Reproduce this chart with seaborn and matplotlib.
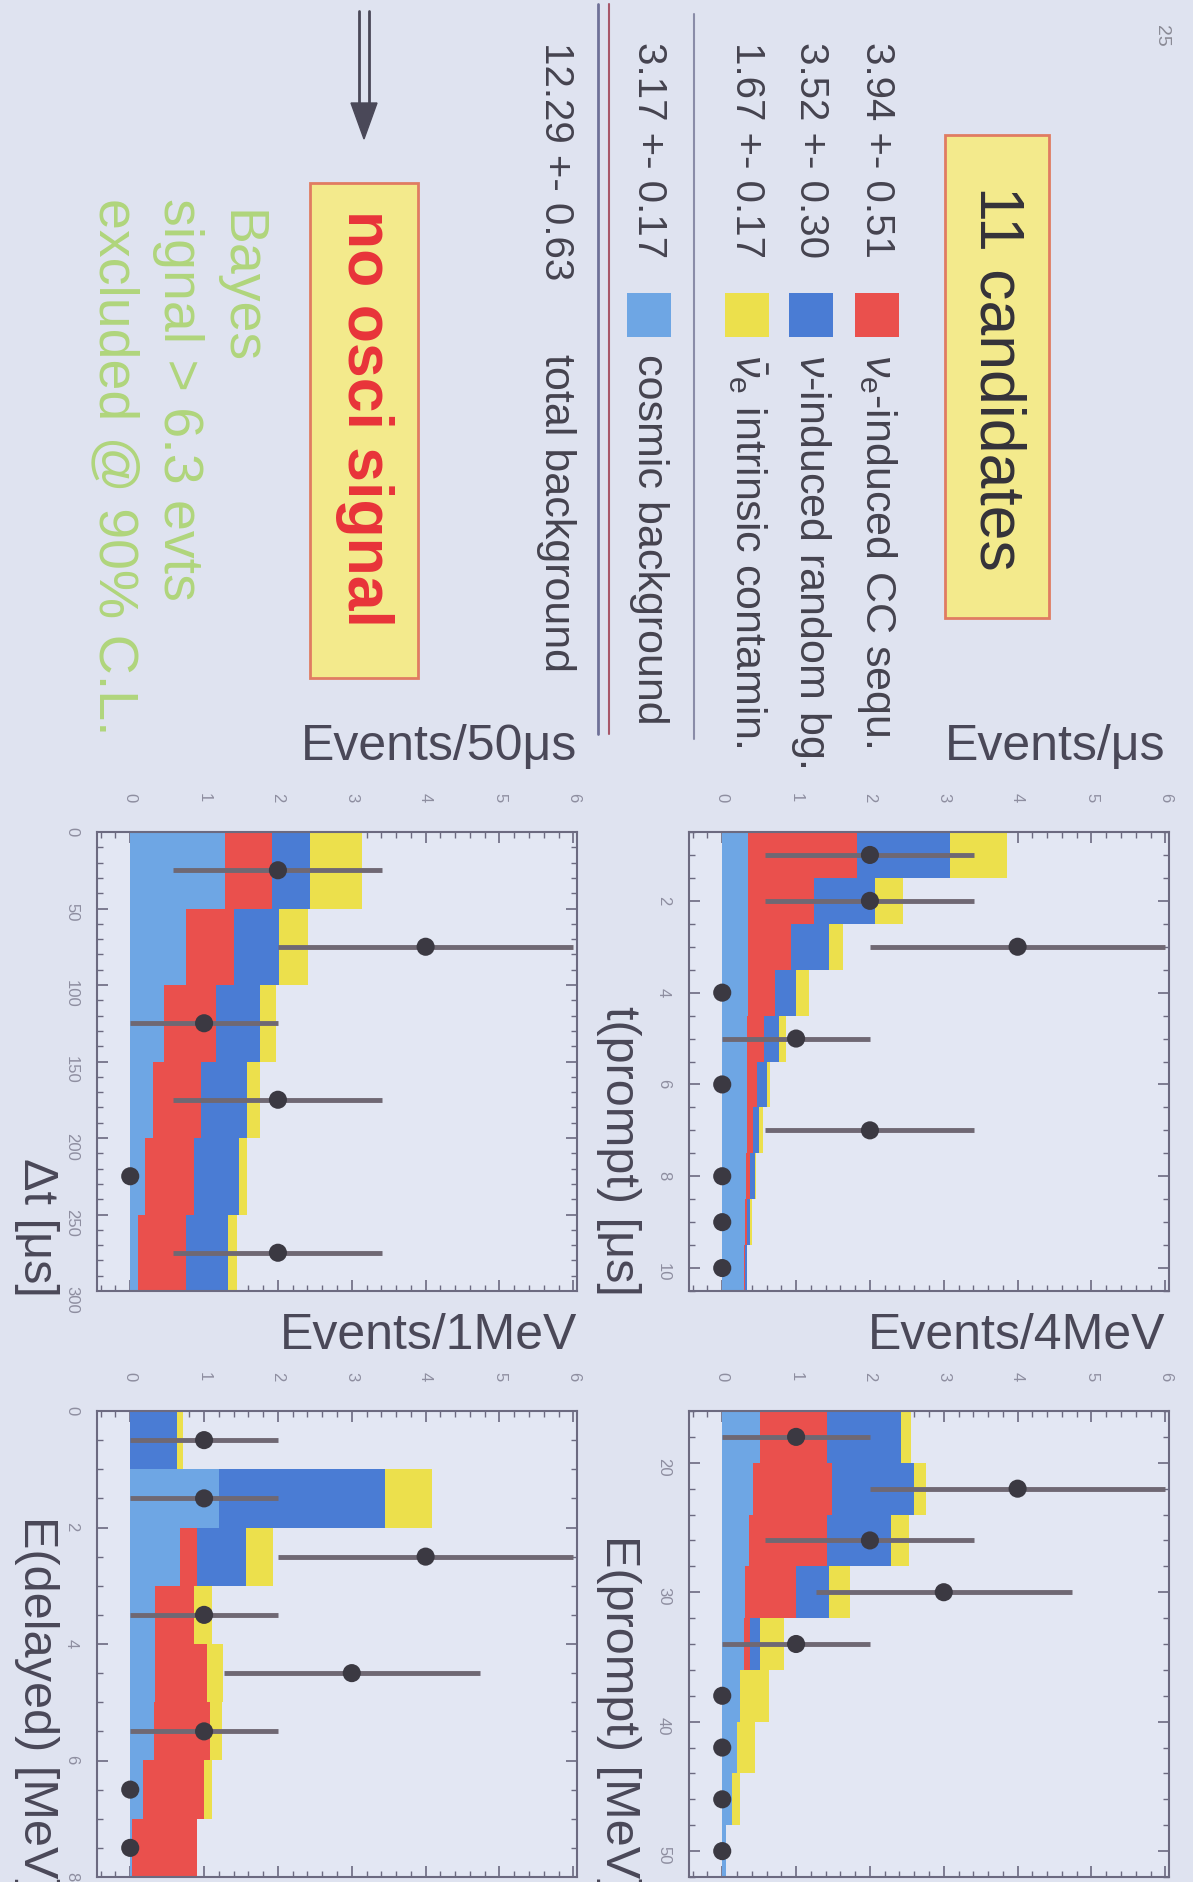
import numpy as np
import pandas as pd
import matplotlib
matplotlib.use("Agg")
import matplotlib.pyplot as plt
from matplotlib.patches import Rectangle, Polygon
from matplotlib.ticker import MultipleLocator
import seaborn as sns

# ---- data (events per bin) ----
components = ["cosmic", "cc", "random", "intrinsic"]
comp_colors = {"cosmic": "#6ea6e4", "cc": "#ea504d", "random": "#4a7cd4", "intrinsic": "#ece04c"}

# t(prompt) [us], 1 us bins
t_edges = [0.5, 1.5, 2.5, 3.5, 4.5, 5.5, 6.5, 7.5, 8.5, 9.5, 10.5]
t_cosmic = [0.35, 0.35, 0.35, 0.35, 0.34, 0.34, 0.33, 0.32, 0.31, 0.29]
t_cc = [1.47, 0.89, 0.58, 0.36, 0.23, 0.13, 0.08, 0.05, 0.03, 0.02]
t_random = [1.27, 0.83, 0.51, 0.29, 0.20, 0.13, 0.09, 0.07, 0.04, 0.02]
t_intrinsic = [0.76, 0.38, 0.20, 0.18, 0.09, 0.05, 0.05, 0.02, 0.02, 0.01]
t_data = [2, 2, 4, 0, 1, 0, 2, 0, 0, 0]

# delta t [us], 50 us bins
dt_edges = [0, 50, 100, 150, 200, 250, 300]
dt_cosmic = [1.29, 0.75, 0.46, 0.31, 0.20, 0.11]
dt_cc = [0.63, 0.65, 0.70, 0.65, 0.67, 0.64]
dt_random = [0.51, 0.62, 0.60, 0.62, 0.60, 0.58]
dt_intrinsic = [0.71, 0.39, 0.22, 0.18, 0.11, 0.12]
dt_data = [2, 4, 1, 2, 0, 2]

# E(prompt) [MeV], 4 MeV bins
ep_edges = [16, 20, 24, 28, 32, 36, 40, 44, 48, 52]
ep_cosmic = [0.51, 0.42, 0.36, 0.31, 0.29, 0.24, 0.20, 0.13, 0.05]
ep_cc = [0.91, 1.07, 1.06, 0.69, 0.09, 0.0, 0.0, 0.0, 0.0]
ep_random = [1.00, 1.11, 0.87, 0.44, 0.13, 0.0, 0.0, 0.0, 0.0]
ep_intrinsic = [0.14, 0.16, 0.24, 0.29, 0.33, 0.40, 0.24, 0.11, 0.0]
ep_data = [1, 4, 2, 3, 1, 0, 0, 0, 0]

# E(delayed) [MeV], 1 MeV bins
ed_edges = [0, 1, 2, 3, 4, 5, 6, 7, 8]
ed_cosmic = [0.0, 1.20, 0.68, 0.34, 0.33, 0.32, 0.17, 0.02]
ed_cc = [0.0, 0.0, 0.22, 0.52, 0.71, 0.76, 0.83, 0.88]
ed_random = [0.63, 2.25, 0.67, 0.0, 0.0, 0.0, 0.0, 0.0]
ed_intrinsic = [0.09, 0.64, 0.36, 0.25, 0.22, 0.16, 0.11, 0.0]
ed_data = [1, 1, 4, 1, 3, 1, 0, 0]

legend_values = ["3.94 +- 0.51", "3.52 +- 0.30", "1.67 +- 0.17", "3.17 +- 0.17"]
legend_labels = [r"$\nu_\mathrm{e}$-induced CC sequ.", r"$\nu$-induced random bg.",
                 r"$\bar{\nu}_\mathrm{e}$ intrinsic contamin.", "cosmic background"]
legend_comps = ["cc", "random", "intrinsic", "cosmic"]
total_value = "12.29 +- 0.63"

# ---- style ----
W, H = 1193, 1883
PAGE = "#dfe3f0"
INNER = "#e3e7f3"
FRAME = "#6c6a80"
DARK = "#45434f"

sns.set_style("ticks")
plt.rcParams["font.family"] = ["Liberation Sans", "DejaVu Sans"]
plt.rcParams["mathtext.fontset"] = "custom"
plt.rcParams["mathtext.rm"] = "Liberation Sans"
plt.rcParams["mathtext.it"] = "Liberation Sans:italic"
plt.rcParams["mathtext.bf"] = "Liberation Sans:bold"

fig = plt.figure(figsize=(W / 100, H / 100), dpi=100, facecolor=PAGE)

bg = fig.add_axes([0, 0, 1, 1], zorder=0)
bg.set_xlim(0, W)
bg.set_ylim(H, 0)
bg.axis("off")


def px_rect(x0, y0, x1, y1):
    return [x0 / W, 1 - y1 / H, (x1 - x0) / W, (y1 - y0) / H]


def draw_panel(rect, edges, comps, counts, major, minor):
    ax = fig.add_axes(px_rect(*rect), zorder=2, facecolor=INNER)
    centers = [(a + b) / 2 for a, b in zip(edges[:-1], edges[1:])]
    rows = []
    for name, vals in zip(components, comps):
        for c, v in zip(centers, vals):
            rows.append({"x": c, "w": v, "comp": name})
    df = pd.DataFrame(rows)
    sns.histplot(data=df, y="x", weights="w", hue="comp",
                 hue_order=components[::-1], palette=comp_colors,
                 multiple="stack", bins=edges, element="step", fill=True,
                 alpha=1, linewidth=0, legend=False, ax=ax)
    pts = pd.DataFrame({"x": centers, "n": counts})
    nz = pts[pts["n"] > 0]
    err = np.sqrt(nz["n"])
    ax.hlines(nz["x"], nz["n"] - err, nz["n"] + err, color="#6f6873", lw=3.5, zorder=3)
    sns.scatterplot(data=pts, x="n", y="x", s=170, color="#3b3942",
                    edgecolor="none", zorder=4, ax=ax)
    ax.set_xlim(-0.45, 6.05)
    ax.set_ylim(edges[-1], edges[0])
    ax.set_xlabel("")
    ax.set_ylabel("")
    ax.xaxis.set_major_locator(MultipleLocator(1))
    ax.xaxis.set_minor_locator(MultipleLocator(0.2))
    ax.yaxis.set_major_locator(MultipleLocator(major))
    ax.yaxis.set_minor_locator(MultipleLocator(minor))
    ax.tick_params(which="both", direction="in", top=True, bottom=True, left=True, right=True,
                   color=FRAME, labeltop=True, labelbottom=False)
    ax.tick_params(which="major", length=8, width=1.2)
    ax.tick_params(which="minor", length=4, width=1)
    ax.tick_params(axis="x", labelrotation=-90, labelsize=12, labelcolor="#8e8ea0", pad=22)
    ax.tick_params(axis="y", labelrotation=-90, labelsize=12, labelcolor="#8e8ea0", pad=13)
    for sp in ax.spines.values():
        sp.set_color(FRAME)
        sp.set_linewidth(1.5)
        sp.set_visible(True)
    return ax


draw_panel((97, 833, 577, 1292), dt_edges,
           [dt_cosmic, dt_cc, dt_random, dt_intrinsic], dt_data, 50, 10)
draw_panel((689, 833, 1169, 1292), t_edges,
           [t_cosmic, t_cc, t_random, t_intrinsic], t_data, 2, 0.5)
draw_panel((97, 1412, 577, 1878), ed_edges,
           [ed_cosmic, ed_cc, ed_random, ed_intrinsic], ed_data, 2, 0.5)
draw_panel((689, 1412, 1169, 1878), ep_edges,
           [ep_cosmic, ep_cc, ep_random, ep_intrinsic], ep_data, 10, 2)

# panel titles (original y axis titles)
title_kw = dict(fontsize=36, color="#4a4858", ha="right", va="center")
bg.text(577, 747, "Events/50μs", **title_kw)
bg.text(1165, 747, "Events/μs", **title_kw)
bg.text(577, 1336, "Events/1MeV", **title_kw)
bg.text(1165, 1336, "Events/4MeV", **title_kw)

# original x axis titles, now on the left side
lab_kw = dict(fontsize=35, color="#4a4858", rotation=-90, ha="center", va="bottom")
bg.text(618, 1296, "t(prompt) [μs]", **lab_kw)
bg.text(36, 1297, "Δt [μs]", **lab_kw)
bg.text(618, 1892, "E(prompt) [MeV]", **lab_kw)
bg.text(36, 1892, "E(delayed) [MeV]", **lab_kw)

# page number
bg.text(1162, 36, "25", rotation=-90, fontsize=14, color="#8a8a95", ha="center", va="center")

# "11 candidates" box
bg.add_patch(Rectangle((945, 136), 104, 483, facecolor="#f3ea8c", edgecolor="#e07c62", lw=2))
bg.text(997, 378, "11 candidates", rotation=-90, fontsize=45, color="#34323a",
        ha="center", va="center")

# legend with numbers
row_x = [877, 811, 747, 649]
for x, val, lab, comp in zip(row_x, legend_values, legend_labels, legend_comps):
    bg.text(x, 42, val, rotation=-90, fontsize=29, color=DARK, ha="center", va="top")
    bg.add_patch(Rectangle((x - 22, 294), 44, 44, facecolor=comp_colors[comp], edgecolor="none"))
    bg.text(x, 354, lab, rotation=-90, fontsize=31, color=DARK, ha="center", va="top")
bg.plot([694, 694], [15, 740], color="#8a8ca8", lw=1.5)
bg.plot([598, 598], [5, 735], color="#6f7198", lw=2)
bg.plot([609, 609], [5, 735], color="#a8586a", lw=1.5)
bg.text(556, 42, total_value, rotation=-90, fontsize=29, color=DARK, ha="center", va="top")
bg.text(556, 354, "total background", rotation=-90, fontsize=31, color=DARK, ha="center", va="top")

# arrow
bg.plot([359, 359], [12, 108], color="#4a4858", lw=2)
bg.plot([369, 369], [12, 108], color="#4a4858", lw=2)
bg.add_patch(Polygon([(351, 104), (377, 104), (364, 140)], closed=True, color="#4a4858"))

# "no osci signal" box
bg.add_patch(Rectangle((310, 184), 108, 495, facecolor="#f3ea8c", edgecolor="#e07c62", lw=2))
bg.text(364, 418, "no osci signal", rotation=-90, fontsize=45, fontweight="bold",
        color="#e8333a", ha="center", va="center")

# Bayes limit text
green = "#b0d57c"
bg.text(240, 210, "Bayes", rotation=-90, fontsize=40, color=green, ha="center", va="top")
bg.text(178, 198, "signal > 6.3 evts", rotation=-90, fontsize=40, color=green, ha="center", va="top")
bg.text(114, 198, "excluded @ 90% C.L.", rotation=-90, fontsize=40, color=green, ha="center", va="top")

fig.savefig("out.png", dpi=100, facecolor=PAGE)
